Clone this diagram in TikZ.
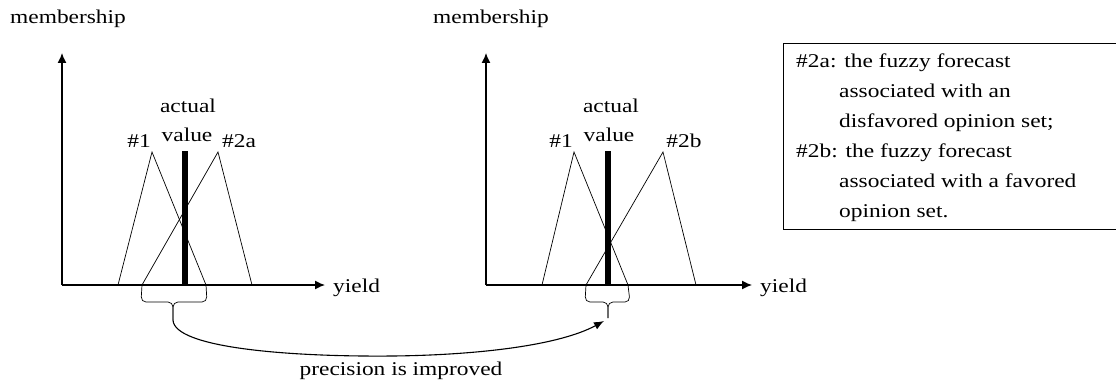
\documentclass[tikz,border=0pt]{standalone}
\usepackage{fontspec}
\setmainfont{Liberation Serif}[FakeStretch=1.2]
\usetikzlibrary{arrows.meta}
\begin{document}
\begin{tikzpicture}[x=1pt,y=-1pt,
  axis/.style={line width=1.3pt,-{Latex[length=10pt,width=9pt]}},
  tri/.style={line width=0.7pt},
  bar/.style={line width=6.5pt},
  bracepath/.style={line width=0.7pt,rounded corners=5pt},
  lbl/.style={font=\fontsize{19.5}{30}\selectfont,inner sep=0pt},
  link/.style={line width=1.1pt,-{Latex[length=10pt,width=8pt]}}]
\useasboundingbox (0,0) rectangle (1116,385);
% ---------- left plot ----------
\coordinate (lo) at (62,285);
\coordinate (lytip) at (62,53);
\coordinate (lxtip) at (325,285);
\draw[axis] (lo) -- (lytip);
\draw[axis] (lo) -- (lxtip);
\node[lbl,anchor=base west] (lmem) at (10,24) {membership};
\node[lbl,anchor=base west] (lyield) at (333,292) {yield};
\draw[tri] (118,285) -- (152,152) -- (206,285);
\draw[tri] (142,285) -- (218,152) -- (252,285);
\draw[bar] (185,151) -- (185,285);
\node[lbl,anchor=base] (lact) at (188,113) {actual};
\node[lbl,anchor=base] (lval) at (187,142) {value};
\node[lbl,anchor=base] (lone) at (139,147) {\#1};
\node[lbl,anchor=base] (ltwo) at (239,147) {\#2a};
\coordinate (lbtip) at (173,320);
\draw[bracepath] (142,285) -- (141,302) -- (173,302) -- (lbtip);
\draw[bracepath] (206,285) -- (207,302) -- (173,302) -- (lbtip);
% ---------- right plot ----------
\coordinate (ro) at (486,285);
\coordinate (rytip) at (486,53);
\coordinate (rxtip) at (752,285);
\draw[axis] (ro) -- (rytip);
\draw[axis] (ro) -- (rxtip);
\node[lbl,anchor=base west] (rmem) at (433,24) {membership};
\node[lbl,anchor=base west] (ryield) at (760,292) {yield};
\draw[tri] (542,285) -- (574,152) -- (628,285);
\draw[tri] (586,285) -- (663,152) -- (696,285);
\draw[bar] (608,151) -- (608,285);
\node[lbl,anchor=base] (ract) at (611,113) {actual};
\node[lbl,anchor=base] (rval) at (609,142) {value};
\node[lbl,anchor=base] (rone) at (561,147) {\#1};
\node[lbl,anchor=base] (rtwo) at (684,147) {\#2b};
\coordinate (rbtip) at (608,318);
\draw[bracepath] (586,285) -- (585,302) -- (608,302) -- (rbtip);
\draw[bracepath] (628,285) -- (630,302) -- (608,302) -- (rbtip);
% ---------- connecting arrow ----------
\coordinate (arrend) at (604,321);
\draw[link] (lbtip) .. controls (174,348) and (290,357) .. (393,356)
  .. controls (480,355) and (560,345) .. (arrend);
\node[lbl,anchor=base] (prec) at (401,375) {precision is improved};
% ---------- legend box ----------
\node[draw,line width=1pt,minimum width=336pt,minimum height=186pt,anchor=north west,inner sep=0pt] (legend) at (783,43) {};
\node[lbl,anchor=base west] (legtext) at (796,68)
  {\begin{tabular}[t]{@{}l@{}}
   \#2a: the fuzzy forecast\\
   \hspace*{43pt}associated with an\\
   \hspace*{43pt}disfavored opinion set;\\
   \#2b: the fuzzy forecast\\
   \hspace*{43pt}associated with a favored\\
   \hspace*{43pt}opinion set.
   \end{tabular}};
\end{tikzpicture}
\end{document}
